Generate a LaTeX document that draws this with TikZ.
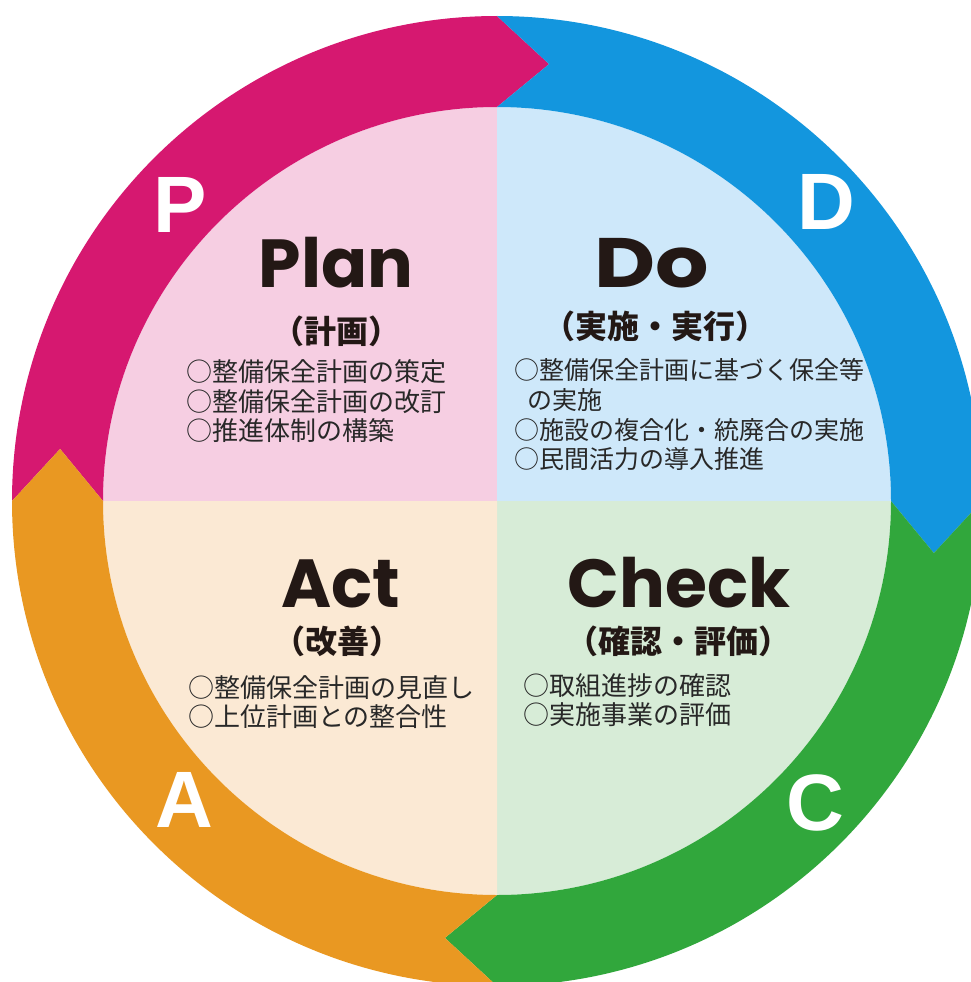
\documentclass[tikz,border=0pt]{standalone}
\usepackage{fontspec}
\newfontfamily\cjk{Noto Sans CJK JP}
\newfontfamily\ttl{Poppins}
\newfontfamily\ttlwide[FakeStretch=1.2]{Poppins}
\newfontfamily\ltr{Liberation Sans}
\definecolor{ringP}{RGB}{214,24,112}
\definecolor{ringD}{RGB}{19,150,222}
\definecolor{ringC}{RGB}{49,167,60}
\definecolor{ringA}{RGB}{233,152,34}
\definecolor{pinkL}{RGB}{246,206,226}
\definecolor{blueL}{RGB}{206,232,250}
\definecolor{greenL}{RGB}{215,236,215}
\definecolor{orangeL}{RGB}{251,233,212}
\definecolor{ink}{RGB}{35,24,21}
\definecolor{itemc}{RGB}{40,40,40}
\newcommand\ringseg[2]{%
  \fill[#2] (#1:485) arc[start angle=#1, end angle={#1+90}, radius=485]
    -- ({#1+96.8}:440) -- ({#1+90}:394)
    arc[start angle={#1+90}, end angle=#1, radius=394]
    -- ({#1+6.8}:440) -- cycle;}
\tikzset{
  ringletter/.style={text=white, font=\ltr\bfseries\fontsize{80}{80}\selectfont, inner sep=0pt},
  phase/.style={text=ink, font=\ttl\bfseries\fontsize{68}{68}\selectfont, inner sep=0pt, anchor=base,
    text depth=0pt},
  subtitle/.style={text=ink, font=\cjk\bfseries\fontsize{32}{32}\selectfont, inner sep=0pt},
  item/.style={text=itemc, font=\cjk\fontsize{26}{30}\selectfont, inner sep=0pt, anchor=west,
    text height=0.88em, text depth=0.12em},
  itemdo/.style={item, font=\cjk\fontsize{25}{30}\selectfont},
}
\begin{document}
\begin{tikzpicture}[x=1pt,y=-1pt]
\useasboundingbox (0,0) rectangle (971,982);
\clip (0,0) rectangle (971,982);
\fill[white] (0,0) rectangle (971,982);
\begin{scope}[shift={(497,501)}]
  \fill[pinkL] (0,0) -- (180:394) arc[start angle=180, end angle=270, radius=394] -- cycle;
  \fill[blueL] (0,0) -- (270:394) arc[start angle=270, end angle=360, radius=394] -- cycle;
  \fill[greenL] (0,0) -- (0:394) arc[start angle=0, end angle=90, radius=394] -- cycle;
  \fill[orangeL] (0,0) -- (90:394) arc[start angle=90, end angle=180, radius=394] -- cycle;
  \ringseg{180}{ringP}
  \ringseg{270}{ringD}
  \ringseg{0}{ringC}
  \ringseg{90}{ringA}
\end{scope}
% ring letters
\node[ringletter] (lP) at (180,205) {P};
\node[ringletter] (lD) at (826,202) {D};
\node[ringletter] (lA) at (184,800) {A};
\node[ringletter] (lC) at (815,803) {C};
% titles
\node[phase] (tPlan) at (336,287) {Plan};
\node[phase, font=\ttlwide\bfseries\fontsize{70}{70}\selectfont] (tDo) at (652,287) {Do};
\node[phase] (tAct) at (341,607) {Act};
\node[phase] (tCheck) at (679,607) {Check};
% subtitles
\node[subtitle] (sPlan) at (336,331) {（計画）};
\node[subtitle] (sDo) at (655,326) {（実施・実行）};
\node[subtitle] (sAct) at (337,641) {（改善）};
\node[subtitle] (sCheck) at (678,641) {（確認・評価）};
% items
\node[item] (p1) at (186,378) {○整備保全計画の策定};
\node[item] (p2) at (186,408) {○整備保全計画の改訂};
\node[item] (p3) at (186,437) {○推進体制の構築};
\node[itemdo] (d1) at (514,376) {○整備保全計画に基づく保全等};
\node[itemdo] (d2) at (527,406) {の実施};
\node[itemdo] (d3) at (514,436) {○施設の複合化・統廃合の実施};
\node[itemdo] (d4) at (514,465) {○民間活力の導入推進};
\node[item] (a1) at (188,694) {○整備保全計画の見直し};
\node[item] (a2) at (188,723) {○上位計画との整合性};
\node[item] (c1) at (523,692) {○取組進捗の確認};
\node[item] (c2) at (523,721) {○実施事業の評価};
\end{tikzpicture}
\end{document}
